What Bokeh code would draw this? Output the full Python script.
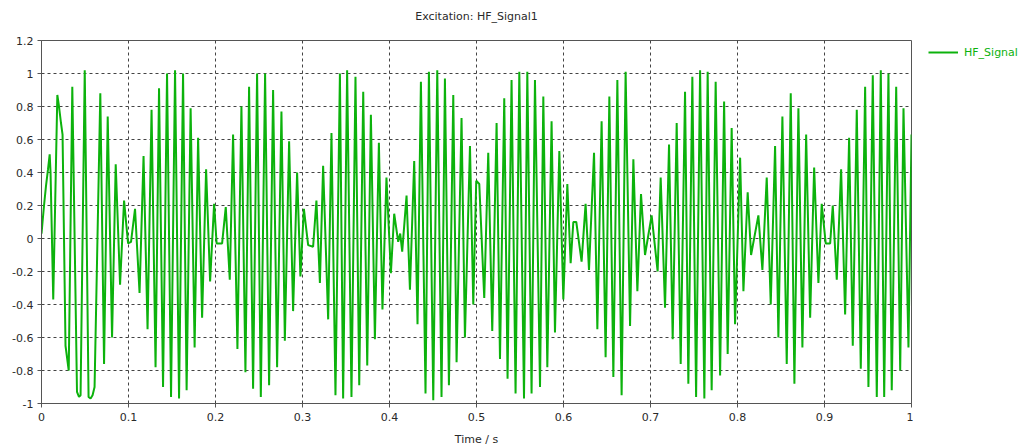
from bokeh.plotting import figure
from bokeh.layouts import row
from bokeh.models import FixedTicker, Legend, LegendItem, ColumnDataSource, Title
from bokeh.embed import file_html
from bokeh.resources import INLINE

# ---- data (time in s, signal value) ----
time_s = [
    0.0000, 0.0012, 0.0029, 0.0052, 0.0075, 0.0094, 0.0104, 0.0135, 0.0182, 0.0201,
    0.0224, 0.0242, 0.0276, 0.0313, 0.0354, 0.0408, 0.0431, 0.0449, 0.0497, 0.0541,
    0.0564, 0.0587, 0.0610, 0.0676, 0.0719, 0.0761, 0.0811, 0.0853, 0.0903, 0.0949,
    0.0995, 0.1029,
    0.1075, 0.1127, 0.1173, 0.1219, 0.1265, 0.1311, 0.1351, 0.1397, 0.1443, 0.1489,
    0.1535, 0.1581, 0.1627, 0.1668, 0.1714, 0.1760, 0.1800, 0.1846, 0.1892, 0.1938,
    0.1984, 0.2013, 0.2076,
    0.2118, 0.2164, 0.2202, 0.2252, 0.2298, 0.2344, 0.2386, 0.2432, 0.2478, 0.2521,
    0.2570, 0.2616, 0.2662, 0.2708, 0.2758, 0.2797, 0.2846, 0.2892, 0.2938, 0.2976,
    0.3016, 0.3065, 0.3122,
    0.3160, 0.3200, 0.3237, 0.3295, 0.3333, 0.3379, 0.3430, 0.3467, 0.3513, 0.3563,
    0.3609, 0.3652, 0.3698, 0.3744, 0.3786, 0.3832, 0.3878, 0.3919, 0.3965, 0.4016,
    0.4054, 0.4100, 0.4123, 0.4146,
    0.4196, 0.4235, 0.4284, 0.4322, 0.4361, 0.4414, 0.4453, 0.4503, 0.4549, 0.4598,
    0.4637, 0.4683, 0.4733, 0.4771, 0.4828, 0.4867, 0.4925, 0.4963, 0.4997, 0.5032,
    0.5089, 0.5135, 0.5181, 0.5231, 0.5270, 0.5319, 0.5357, 0.5403, 0.5449, 0.5492,
    0.5546, 0.5584, 0.5633, 0.5672, 0.5730, 0.5768, 0.5814, 0.5863, 0.5902, 0.5952,
    0.5998, 0.6044, 0.6082, 0.6113, 0.6147, 0.6208,
    0.6254, 0.6293, 0.6351, 0.6389, 0.6438, 0.6484, 0.6527, 0.6573, 0.6619, 0.6668,
    0.6714, 0.6765, 0.6803, 0.6849, 0.6891, 0.6937, 0.7013,
    0.7082, 0.7117, 0.7167, 0.7213, 0.7255, 0.7301, 0.7347, 0.7397, 0.7435, 0.7481,
    0.7524, 0.7570, 0.7619, 0.7657, 0.7703, 0.7749, 0.7800, 0.7846, 0.7887, 0.7933,
    0.7972, 0.8030, 0.8068, 0.8117, 0.8156, 0.8240, 0.8286,
    0.8336, 0.8382, 0.8432, 0.8470, 0.8516, 0.8566, 0.8612, 0.8654, 0.8700, 0.8746,
    0.8789, 0.8835, 0.8881, 0.8930, 0.8968, 0.9014, 0.9065,
    0.9095, 0.9141, 0.9191, 0.9237, 0.9283, 0.9325, 0.9371, 0.9417, 0.9467, 0.9505,
    0.9555, 0.9601, 0.9647, 0.9686, 0.9735, 0.9773, 0.9824, 0.9870, 0.9908, 0.9965,
    1.0000,
]
hf_signal = [
    0.03, 0.10, 0.20, 0.32, 0.42, 0.51, 0.40, -0.37, 0.87, 0.80,
    0.70, 0.63, -0.65, -0.80, 0.92, -0.93, -0.96, -0.95, 1.02, -0.96,
    -0.97, -0.95, -0.90, 0.88, -0.76, 0.74, -0.60, 0.45, -0.28, 0.23,
    -0.03, -0.02,
    0.18, -0.33, 0.50, -0.55, 0.78, -0.78, 0.91, -0.90, 1.00, -0.96,
    1.02, -0.97, 1.00, -0.92, 0.79, -0.66, 0.61, -0.48, 0.42, -0.26,
    0.21, -0.03, -0.03,
    0.19, -0.25, 0.63, -0.67, 0.80, -0.81, 0.92, -0.91, 1.00, -0.96,
    1.00, -0.89, 0.90, -0.78, 0.77, -0.62, 0.59, -0.44, 0.40, -0.23,
    0.18, -0.04, -0.05,
    0.23, -0.27, 0.44, -0.49, 0.64, -0.95, 1.00, -0.97, 1.02, -0.96,
    0.98, -0.89, 0.89, -0.77, 0.75, -0.61, 0.58, -0.43, 0.37, -0.21,
    0.15, -0.02, 0.03, -0.08,
    0.26, -0.31, 0.47, -0.52, 0.95, -0.94, 1.01, -0.98, 1.02, -0.96,
    0.97, -0.89, 0.87, -0.75, 0.73, -0.60, 0.56, -0.40, 0.35, 0.33,
    -0.36, 0.52, -0.56, 0.70, -0.73, 0.85, -0.85, 0.96, -0.94, 1.01,
    -0.97, 1.01, -0.94, 0.96, -0.90, 0.86, -0.78, 0.71, -0.57, 0.53,
    -0.37, 0.33, -0.15, 0.10, 0.10, -0.14,
    0.21, -0.19, 0.52, -0.55, 0.71, -0.72, 0.86, -0.84, 0.96, -0.95,
    1.01, -0.53, 0.48, -0.32, 0.27, -0.10, 0.14,
    -0.20, 0.37, -0.42, 0.57, -0.61, 0.70, -0.76, 0.89, -0.88, 0.98,
    -0.96, 1.02, -0.97, 1.01, -0.92, 0.95, -0.83, 0.83, -0.70, 0.67,
    -0.52, 0.49, -0.32, 0.28, -0.10, 0.14, -0.19,
    0.37, -0.40, 0.56, -0.60, 0.74, -0.76, 0.88, -0.88, 0.79, -0.66,
    0.63, -0.48, 0.43, -0.27, 0.21, -0.03, -0.03,
    0.20, -0.25, 0.42, -0.46, 0.61, -0.65, 0.78, -0.79, 0.92, -0.90,
    0.99, -0.96, 1.02, -0.96, 1.00, -0.92, 0.92, -0.80, 0.79, -0.66,
    0.63,
]
x_ticks = [0.0, 0.1, 0.2, 0.3, 0.4, 0.5, 0.6, 0.7, 0.8, 0.9, 1.0]
x_tick_labels = ["0", "0.1", "0.2", "0.3", "0.4", "0.5", "0.6", "0.7", "0.8", "0.9", "1"]
y_ticks = [-1.0, -0.8, -0.6, -0.4, -0.2, 0.0, 0.2, 0.4, 0.6, 0.8, 1.0, 1.2]
y_tick_labels = ["-1", "-0.8", "-0.6", "-0.4", "-0.2", "0", "0.2", "0.4", "0.6", "0.8", "1", "1.2"]
series_name = "HF_Signal"
title_text = "Excitation: HF_Signal1"
x_label = "Time / s"

GREEN = "#0cb20c"
FONT = "DejaVu Sans"
TXT = "#2a2a2a"

p = figure(width=913, height=448, x_range=(0, 1), y_range=(-1, 1.2),
           output_backend="svg", toolbar_location=None,
           min_border_left=41, min_border_right=2,
           min_border_top=40, min_border_bottom=45)

p.title.text = title_text
p.title.align = "center"
p.title.vertical_align = "middle"
p.title.text_font = FONT
p.title.text_font_size = "11px"
p.title.text_font_style = "normal"
p.title.text_color = TXT
# thin blank title between the real title and the frame, to lift the title a little
p.add_layout(Title(text=" ", text_font=FONT, text_font_size="9px", standoff=0), "above")

src = ColumnDataSource(dict(t=time_s, v=hf_signal))
r = p.line("t", "v", source=src, line_color=GREEN, line_width=2)

for ax in (p.xaxis[0], p.yaxis[0]):
    ax.major_label_text_font = FONT
    ax.major_label_text_font_size = "11px"
    ax.major_label_text_color = TXT
    ax.axis_line_color = "#555555"
    ax.major_tick_line_color = "#555555"
    ax.major_tick_out = 4
    ax.major_tick_in = 0
    ax.minor_tick_line_color = None

p.xaxis.ticker = FixedTicker(ticks=x_ticks)
p.yaxis.ticker = FixedTicker(ticks=y_ticks)
p.xaxis.major_label_overrides = dict(zip(x_ticks, x_tick_labels))
p.yaxis.major_label_overrides = dict(zip(y_ticks, y_tick_labels))
p.xaxis.axis_label = x_label
p.xaxis.axis_label_text_font = FONT
p.xaxis.axis_label_text_font_size = "11px"
p.xaxis.axis_label_text_font_style = "normal"
p.xaxis.axis_label_text_color = TXT
p.xaxis.axis_label_standoff = 9
p.xaxis.major_label_standoff = 5
p.yaxis.major_label_standoff = 4

for g in (p.xgrid[0], p.ygrid[0]):
    g.grid_line_color = "#444444"
    g.grid_line_dash = "3 3"
    g.grid_line_width = 1

p.outline_line_color = "#555555"
p.outline_line_width = 1
p.background_fill_color = "white"
p.border_fill_color = "white"

# legend panel on the right (separate small canvas so the legend is not clipped);
# it shows the same series, with ranges chosen so the series itself stays out of view
lg = figure(width=108, height=448, x_range=(5, 6), y_range=(5, 6),
            output_backend="svg", toolbar_location=None,
            min_border=0, outline_line_color=None)
lg.xaxis.visible = False
lg.yaxis.visible = False
lg.xgrid.visible = False
lg.ygrid.visible = False
lg.background_fill_color = "white"
lg.border_fill_color = "white"
r_key = lg.line("t", "v", source=src, line_color=GREEN, line_width=2)

legend = Legend(items=[LegendItem(label=series_name, renderers=[r_key])],
                location=(10, 339), padding=5, margin=0,
                glyph_width=30, glyph_height=14, label_height=14,
                label_standoff=6, background_fill_alpha=0,
                border_line_alpha=0, label_text_font=FONT,
                label_text_font_size="11px", label_text_color=GREEN)
lg.add_layout(legend, "center")

layout = row(p, lg, spacing=0)
open("out.html", "w").write(file_html(layout, INLINE))
